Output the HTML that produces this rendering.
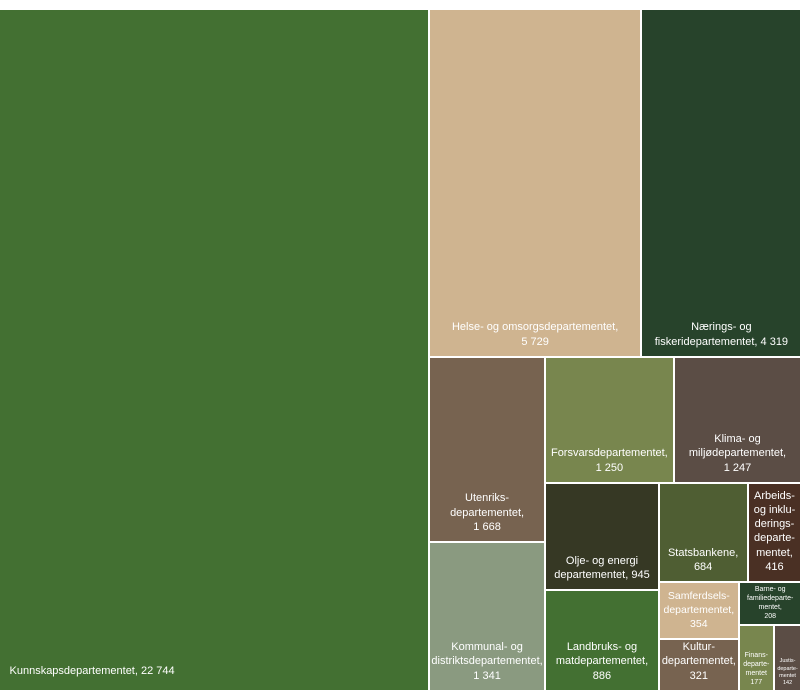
<!DOCTYPE html>
<html><head><meta charset="utf-8"><style>
body{margin:0;width:800px;height:699px;background:#fff;overflow:hidden;font-family:"Liberation Sans",sans-serif}
#chart{position:relative;width:800px;height:699px}
.cell{position:absolute;box-sizing:border-box;display:flex;flex-direction:column;justify-content:flex-end;align-items:center;text-align:center;color:#fff;white-space:pre-line;line-height:1.3;overflow:hidden}
</style></head><body>
<div id="chart"></div>
<script>
const names=["Kunnskapsdepartementet","Helse- og omsorgsdepartementet","Nærings- og fiskeridepartementet","Utenriksdepartementet","Kommunal- og distriktsdepartementet","Forsvarsdepartementet","Klima- og miljødepartementet","Olje- og energidepartementet","Landbruks- og matdepartementet","Statsbankene","Arbeids- og inkluderingsdepartementet","Samferdselsdepartementet","Kulturdepartementet","Barne- og familiedepartementet","Finansdepartementet","Justisdepartementet"];
const values=[22744,5729,4319,1668,1341,1250,1247,945,886,684,416,354,321,208,177,142];
const labels=["Kunnskapsdepartementet, 22 744","Helse- og omsorgsdepartementet,\n5 729","Nærings- og\nfiskeridepartementet, 4 319","Utenriks-\ndepartementet,\n1 668","Kommunal- og\ndistriktsdepartementet,\n1 341","Forsvarsdepartementet,\n1 250","Klima- og\nmiljødepartementet,\n1 247","Olje- og energi\ndepartementet, 945","Landbruks- og\nmatdepartementet,\n886","Statsbankene,\n684","Arbeids-\nog inklu-\nderings-\ndeparte-\nmentet,\n416","Samferdsels-\ndepartementet,\n354","Kultur-\ndepartementet,\n321","Barne- og\nfamiliedeparte-\nmentet,\n208","Finans-\ndeparte-\nmentet\n177","Justis-\ndeparte-\nmentet\n142"];
const colors=["#437032","#cfb490","#27432b","#776350","#8a9a80","#78864e","#5b4d45","#363824","#437032","#4f5e33","#4a3024","#cfb490","#776350","#27432b","#78864e","#5b4d45"];
const fontSizes=[11,11,11,11,11,11,11,11,11,11,11,10.5,11,7,7,5.5];
const tree=['h',0,['v',['h',1,2],['h',['v',3,4],['v',['h',5,6],['h',['v',7,8],['v',['h',9,10],['h',['v',11,12],['v',13,['h',14,15]]]]]]]]];
function sum(n){return typeof n==='number'?values[n]:n.slice(1).reduce((a,c)=>a+sum(c),0);}
const chart=document.getElementById('chart');
function layout(n,x,y,w,h){
  if(typeof n==='number'){draw(n,x,y,w,h);return;}
  const dir=n[0],kids=n.slice(1),tot=sum(n);let off=0;
  kids.forEach(k=>{const f=sum(k)/tot;
    if(dir==='h'){layout(k,x+off,y,w*f,h);off+=w*f;}else{layout(k,x,y+off,w,h*f);off+=h*f;}});
}
function draw(i,x,y,w,h){
  const d=document.createElement('div');
  d.className='cell';
  
  
  const pad=fontSizes[i]<9?3:7;
  d.style.cssText+=`left:${x+1}px;top:${y+1}px;width:${w-2}px;height:${h-2}px;background:${colors[i]};font-size:${fontSizes[i]}px;padding-bottom:${pad}px;`;
  if(i===0){d.style.alignItems='flex-start';d.style.paddingLeft='10px';d.style.paddingBottom='12px';}
  const s=document.createElement('span');
  
  
  s.textContent=labels[i];d.appendChild(s);chart.appendChild(d);
}
layout(tree,-1.5,9,803,682);
</script>
</body></html>
